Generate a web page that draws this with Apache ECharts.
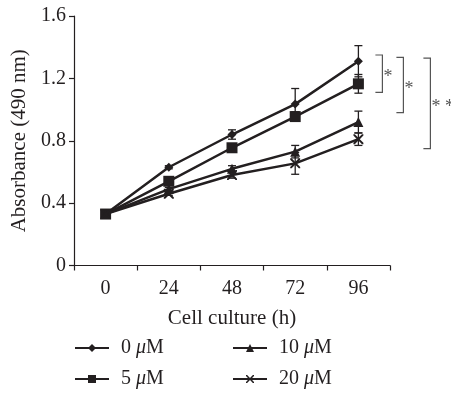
<!DOCTYPE html>
<html>
<head>
<meta charset="utf-8">
<script src="https://cdn.jsdelivr.net/npm/echarts@6/dist/echarts.min.js"></script>
<style>
  html, body { margin: 0; padding: 0; background: #fff; }
  #chart { width: 451px; height: 398px; }
</style>
</head>
<body>
<div id="chart"></div>
<script>
const hours = ['0', '24', '48', '72', '96'];
const seriesNames = ['0 μM', '5 μM', '10 μM', '20 μM'];
const absorbance = [
  [0.33, 0.63, 0.84, 1.035, 1.31],
  [0.33, 0.54, 0.755, 0.955, 1.165],
  [0.33, 0.49, 0.62, 0.73, 0.92],
  [0.33, 0.46, 0.58, 0.655, 0.81]
];
const errors = [
  [0, 0.01, 0.03, 0.1, 0.1],
  [0, 0.01, 0.02, 0.03, 0.06],
  [0, 0.01, 0.02, 0.04, 0.07],
  [0, 0.01, 0.02, 0.07, 0.04]
];
// significance brackets at 96 h: top value, bottom value, label
const brackets = [
  { top: 1.35, bottom: 1.11, label: '*' },
  { top: 1.335, bottom: 0.98, label: '*' },
  { top: 1.33, bottom: 0.75, label: '* *' }
];

const INK = '#231f20';
const FONT = 'Liberation Serif, DejaVu Serif, serif';
const crossPath = 'path://M0,0 L1.4,0 L5,3.6 L8.6,0 L10,0 L10,1.4 L6.4,5 L10,8.6 L10,10 L8.6,10 L5,6.4 L1.4,10 L0,10 L0,8.6 L3.6,5 L0,1.4 Z';
const symbols = [
  { symbol: 'diamond', size: 9 },
  { symbol: 'rect', size: 11 },
  { symbol: 'triangle', size: 10 },
  { symbol: crossPath, size: 10 }
];

const chart = echarts.init(document.getElementById('chart'), null, { renderer: 'canvas' });

const lineSeries = seriesNames.map((name, s) => ({
  name,
  type: 'line',
  data: absorbance[s],
  symbol: symbols[s].symbol,
  symbolSize: symbols[s].size,
  showAllSymbol: true,
  lineStyle: { color: INK, width: 2.5 },
  itemStyle: { color: INK },
  z: 3
}));

const errSeries = seriesNames.map((name, s) => ({
  type: 'custom',
  silent: true,
  clip: false,
  data: absorbance[s].map((v, i) => [i, v - errors[s][i], v + errors[s][i]]),
  renderItem: (params, api) => {
    if (api.value(2) - api.value(1) < 0.005) return null;
    const lo = api.coord([api.value(0), api.value(1)]);
    const hi = api.coord([api.value(0), api.value(2)]);
    const cap = 4;
    const st = { stroke: INK, lineWidth: 1.3 };
    return {
      type: 'group',
      children: [
        { type: 'line', shape: { x1: hi[0], y1: hi[1], x2: lo[0], y2: lo[1] }, style: st },
        { type: 'line', shape: { x1: hi[0] - cap, y1: hi[1], x2: hi[0] + cap, y2: hi[1] }, style: st },
        { type: 'line', shape: { x1: lo[0] - cap, y1: lo[1], x2: lo[0] + cap, y2: lo[1] }, style: st }
      ]
    };
  },
  z: 2
}));

const bracketOffsets = [24, 45, 72];
const bracketSeries = {
  type: 'custom',
  silent: true,
  clip: false,
  data: brackets.map((b, k) => [hours.length - 1, b.top, b.bottom, k]),
  renderItem: (params, api) => {
    const k = api.value(3);
    const top = api.coord([api.value(0), api.value(1)]);
    const bot = api.coord([api.value(0), api.value(2)]);
    const x = top[0] + bracketOffsets[k];
    const st = { stroke: '#555', lineWidth: 1.2, fill: null };
    return {
      type: 'group',
      children: [
        { type: 'polyline', shape: { points: [[x - 7, top[1]], [x, top[1]], [x, bot[1]], [x - 7, bot[1]]] }, style: st },
        { type: 'text', style: { text: brackets[k].label, x: x + 1, y: (top[1] + bot[1]) / 2 + 4, fill: '#555', font: '18px ' + FONT, textAlign: 'left', textVerticalAlign: 'middle' } }
      ]
    };
  }
};

const legendBase = {
  orient: 'vertical',
  top: 338,
  height: 80,
  padding: 0,
  itemWidth: 34,
  itemHeight: 10,
  itemGap: 11,
  selectedMode: false,
  formatter: n => {
    const p = n.split(' ');
    return p[0] + ' {i|μ}M';
  },
  textStyle: {
    color: INK, fontFamily: FONT, fontSize: 20, padding: [0, 0, 0, 7],
    rich: { i: { fontStyle: 'italic', fontFamily: FONT, fontSize: 20, color: INK } }
  }
};

chart.setOption({
  animation: false,
  backgroundColor: '#fff',
  grid: { left: 74, right: 61, top: 16, bottom: 132.5, containLabel: false },
  legend: [
    Object.assign({}, legendBase, { left: 74, data: [seriesNames[0], seriesNames[1]] }),
    Object.assign({}, legendBase, { left: 232, data: [seriesNames[2], seriesNames[3]] })
  ],
  xAxis: {
    type: 'category',
    data: hours,
    boundaryGap: true,
    name: 'Cell culture (h)',
    nameLocation: 'middle',
    nameGap: 42,
    nameTextStyle: { color: INK, fontFamily: FONT, fontSize: 21 },
    axisLine: { lineStyle: { color: INK, width: 1.2 } },
    axisTick: { show: true, length: 5, lineStyle: { color: INK, width: 1.2 } },
    axisLabel: { color: INK, fontFamily: FONT, fontSize: 20, margin: 13 },
    splitLine: { show: false }
  },
  yAxis: {
    type: 'value',
    min: 0,
    max: 1.6,
    interval: 0.4,
    name: 'Absorbance (490 nm)',
    nameLocation: 'middle',
    nameGap: 38,
    nameTextStyle: { color: INK, fontFamily: FONT, fontSize: 21 },
    axisLine: { show: true, lineStyle: { color: INK, width: 1.2 } },
    axisTick: { show: true, length: 5, lineStyle: { color: INK, width: 1.2 } },
    axisLabel: { color: INK, fontFamily: FONT, fontSize: 20, margin: 8, formatter: v => v === 0 ? '0' : v.toFixed(1) },
    splitLine: { show: false }
  },
  series: [...errSeries, ...lineSeries, bracketSeries]
});
</script>
</body>
</html>
